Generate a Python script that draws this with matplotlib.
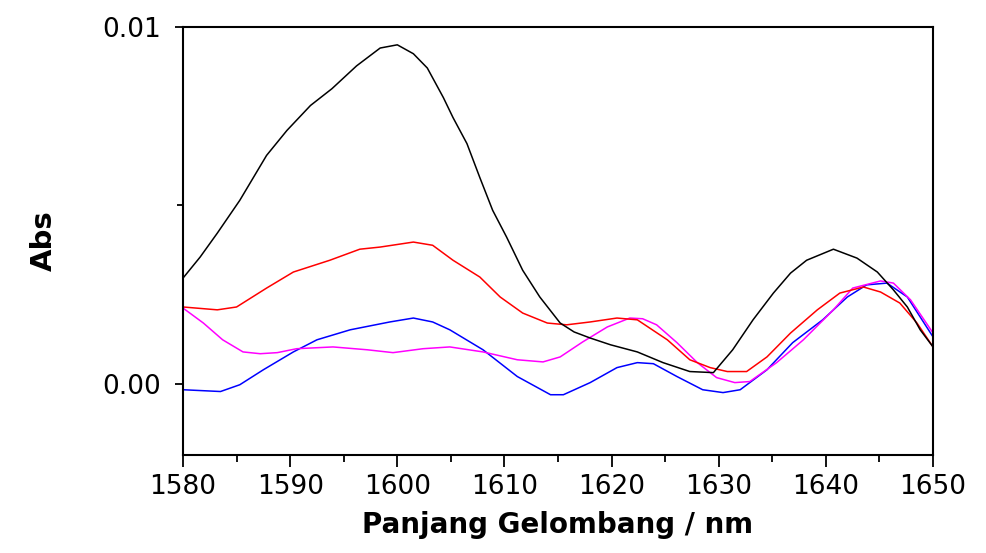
import matplotlib
matplotlib.use("Agg")
import matplotlib.pyplot as plt
from matplotlib.ticker import MultipleLocator, FormatStrFormatter
import numpy as np

# Data (absorbance in units of 1e-3)
x_black = [1580, 1581.6, 1583.2, 1585.3, 1587.8, 1589.7, 1591.9, 1593.9, 1596.2, 1598.4, 1600,
           1601.5, 1602.8, 1604.3, 1605.2, 1606.5, 1607.7, 1608.9, 1610.2, 1611.7, 1613.3, 1615.2,
           1616.5, 1618, 1619.9, 1622.4, 1624.8, 1627.3, 1629.5, 1631.3, 1633.2, 1635.1, 1636.7,
           1638.2, 1640.7, 1642.9, 1644.8, 1646.3, 1647.6, 1648.8, 1650]
y_black = [2.96, 3.55, 4.22, 5.14, 6.4, 7.1, 7.8, 8.27, 8.91, 9.41, 9.50,
           9.25, 8.85, 8.02, 7.46, 6.73, 5.78, 4.86, 4.11, 3.18, 2.43, 1.70,
           1.45, 1.28, 1.09, 0.89, 0.59, 0.34, 0.31, 0.95, 1.79, 2.54, 3.1,
           3.46, 3.77, 3.52, 3.13, 2.63, 2.15, 1.51, 1.03]

x_red = [1580, 1583.2, 1585, 1587.8, 1590.3, 1593.7, 1596.5, 1598.4, 1601.5, 1603.3, 1605.2,
         1607.7, 1609.6, 1611.7, 1614, 1615.8, 1618, 1620.5, 1622.4, 1625.2, 1627.3, 1629.2,
         1630.8, 1632.6, 1634.5, 1636.7, 1639.2, 1641.3, 1643.5, 1645.1, 1646.9, 1648.5, 1650]
y_red = [2.15, 2.07, 2.15, 2.68, 3.13, 3.46, 3.77, 3.83, 3.97, 3.88, 3.46,
         2.99, 2.43, 1.98, 1.70, 1.65, 1.73, 1.84, 1.79, 1.23, 0.67, 0.45,
         0.34, 0.34, 0.75, 1.42, 2.07, 2.54, 2.71, 2.57, 2.26, 1.70, 1.03]

x_magenta = [1580, 1581.9, 1583.7, 1585.6, 1587.2, 1588.8, 1590.6, 1594, 1597.2, 1599.6, 1602.4,
             1604.9, 1608, 1611.2, 1613.6, 1615.2, 1617.3, 1619.6, 1621.7, 1622.9, 1624.2, 1626.1,
             1628, 1629.8, 1631.5, 1632.9, 1635.4, 1637.9, 1640.7, 1642.5, 1645.1, 1646.3,
             1647.9, 1650]
y_magenta = [2.12, 1.70, 1.23, 0.89, 0.84, 0.87, 0.98, 1.03, 0.95, 0.87, 0.98,
             1.03, 0.89, 0.67, 0.61, 0.75, 1.17, 1.59, 1.84, 1.82, 1.65, 1.15,
             0.59, 0.17, 0.03, 0.06, 0.59, 1.23, 2.07, 2.68, 2.88, 2.82,
             2.35, 1.42]

x_blue = [1580, 1583.5, 1585.3, 1587.5, 1590.3, 1592.5, 1595.6, 1599.3, 1601.5, 1603.3, 1604.9,
          1608, 1611.2, 1614.3, 1615.5, 1618, 1620.5, 1622.4, 1623.9, 1626.1, 1628.5, 1630.4,
          1632, 1634.5, 1636.9, 1639.7, 1642, 1643.8, 1645.7, 1647.6, 1650]
y_blue = [-0.17, -0.22, -0.03, 0.39, 0.89, 1.23, 1.51, 1.73, 1.84, 1.73, 1.51,
          0.95, 0.2, -0.31, -0.31, 0.03, 0.45, 0.59, 0.56, 0.2, -0.17, -0.25,
          -0.17, 0.39, 1.15, 1.79, 2.43, 2.77, 2.82, 2.43, 1.31]

series = [
    (x_blue, y_blue, "blue"),
    (x_magenta, y_magenta, "magenta"),
    (x_red, y_red, "red"),
    (x_black, y_black, "black"),
]

fig = plt.figure(figsize=(9.86, 5.53), dpi=100)
ax = fig.add_axes([0.1856, 0.1772, 0.7607, 0.774])

for xs, ys, c in series:
    ax.plot(xs, np.array(ys) * 1e-3, color=c, lw=1.1)

ax.set_xlim(1580, 1650)
ax.set_ylim(-0.002, 0.01)

ax.xaxis.set_major_locator(MultipleLocator(10))
ax.xaxis.set_minor_locator(MultipleLocator(5))
ax.set_yticks([0, 0.01])
ax.yaxis.set_minor_locator(MultipleLocator(0.005))
ax.yaxis.set_major_formatter(FormatStrFormatter("%.2f"))

ax.tick_params(axis="x", which="major", direction="out", length=8.5, width=1.3, labelsize=19, pad=5)
ax.tick_params(axis="x", which="minor", direction="out", length=5, width=1.3)
ax.tick_params(axis="y", which="major", direction="out", length=6, width=1.3, labelsize=19, pad=10)
ax.tick_params(axis="y", which="minor", direction="out", length=4, width=1.3)

for sp in ax.spines.values():
    sp.set_linewidth(1.5)

ax.set_xlabel("Panjang Gelombang / nm", fontsize=20, fontweight="bold", labelpad=8)
ax.set_ylabel("Abs", fontsize=21, fontweight="bold", labelpad=32)

fig.savefig("out.png", dpi=100)
